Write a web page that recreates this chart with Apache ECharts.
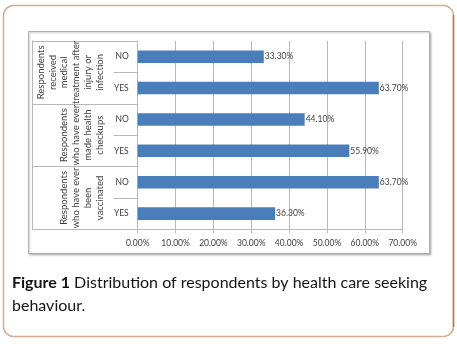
<!DOCTYPE html>
<html>
<head>
<meta charset="utf-8">
<script src="https://cdn.jsdelivr.net/npm/echarts@6/dist/echarts.min.js"></script>
<style>
html,body{margin:0;padding:0;background:#fff;}
#chart{width:457px;height:344px;}
</style>
</head>
<body>
<div id="chart"></div>
<script>
const categories = ['NO', 'YES', 'NO', 'YES', 'NO', 'YES'];
const groups = [
  'Respondents\nreceived\nmedical\ntreatment after\ninjury or\ninfection',
  'Respondents\nwho have ever\nmade health\ncheckups',
  'Respondents\nwho have ever\nbeen\nvaccinated'
];
const values = [33.3, 63.7, 44.1, 55.9, 63.7, 36.3];
const xMin = 0, xMax = 70, xStep = 10;

const lineColor = '#b8b8b8';
const textColor = '#404040';
const font = 'Lato, "Open Sans", sans-serif';

const chart = echarts.init(document.getElementById('chart'), null, {renderer: 'canvas'});
chart.setOption({
  animation: false,
  backgroundColor: '#ffffff',
  title: {
    text: '{b|Figure 1} Distribution of respondents by health care seeking\nbehaviour.',
    left: 7,
    top: 266,
    textStyle: {
      fontFamily: font,
      fontSize: 16,
      fontWeight: 'normal',
      color: '#141414',
      lineHeight: 23,
      rich: {
        b: {fontFamily: font, fontSize: 16, fontWeight: 'bold', color: '#141414', lineHeight: 23}
      }
    }
  },
  graphic: [
    {type: 'rect', shape: {x: 3.5, y: 5.5, width: 450, height: 331, r: 10}, style: {fill: 'none', stroke: '#d6ad90', lineWidth: 1.5}, z: -10},
    {type: 'line', shape: {x1: 453.5, y1: 15, x2: 453.5, y2: 327}, style: {stroke: '#bf7a30', lineWidth: 1.5}, z: -8},
    {type: 'rect', shape: {x: 28.5, y: 31.5, width: 401, height: 222}, style: {fill: '#fff', stroke: '#b0b0b0', lineWidth: 1, shadowBlur: 2, shadowColor: 'rgba(0,0,0,0.25)', shadowOffsetX: 1, shadowOffsetY: 1}, z: -9}
  ],
  grid: {left: 137.7, right: 54.3, top: 41, bottom: 114.7, containLabel: false},
  xAxis: {
    type: 'value',
    min: xMin, max: xMax, interval: xStep,
    axisLine: {show: true, lineStyle: {color: lineColor}},
    axisTick: {show: true, length: 4, lineStyle: {color: lineColor}},
    splitLine: {show: true, lineStyle: {color: lineColor}},
    axisLabel: {
      formatter: v => v.toFixed(2) + '%',
      fontFamily: font, fontSize: 8.5, color: textColor, margin: 9
    }
  },
  yAxis: [
    {
      type: 'category', data: categories, inverse: true,
      axisLine: {show: true, lineStyle: {color: lineColor}},
      axisTick: {show: true, interval: 0, length: 24, lineStyle: {color: lineColor}},
      axisLabel: {interval: 0, fontFamily: font, fontSize: 8.5, color: textColor, margin: 9}
    },
    {
      type: 'category', data: groups, inverse: true, position: 'left', offset: 0,
      axisLine: {show: false},
      axisTick: {show: true, interval: 0, length: 105, lineStyle: {color: lineColor}},
      axisLabel: {interval: 0, hideOverlap: false, rotate: 90, margin: 32, fontFamily: font, fontSize: 9.5, lineHeight: 11.8, color: textColor}
    },
    {
      type: 'category', data: groups, inverse: true, position: 'left', offset: 105,
      axisLine: {show: true, lineStyle: {color: lineColor}},
      axisTick: {show: false},
      axisLabel: {show: false}
    }
  ],
  series: [{
    type: 'bar',
    data: values,
    yAxisIndex: 0,
    barWidth: '40%',
    itemStyle: {color: '#4a7ebb'},
    label: {
      show: true, position: 'right', distance: 1,
      formatter: p => p.value.toFixed(2) + '%',
      fontFamily: font, fontSize: 8.5, color: textColor
    }
  }]
});
</script>
</body>
</html>
